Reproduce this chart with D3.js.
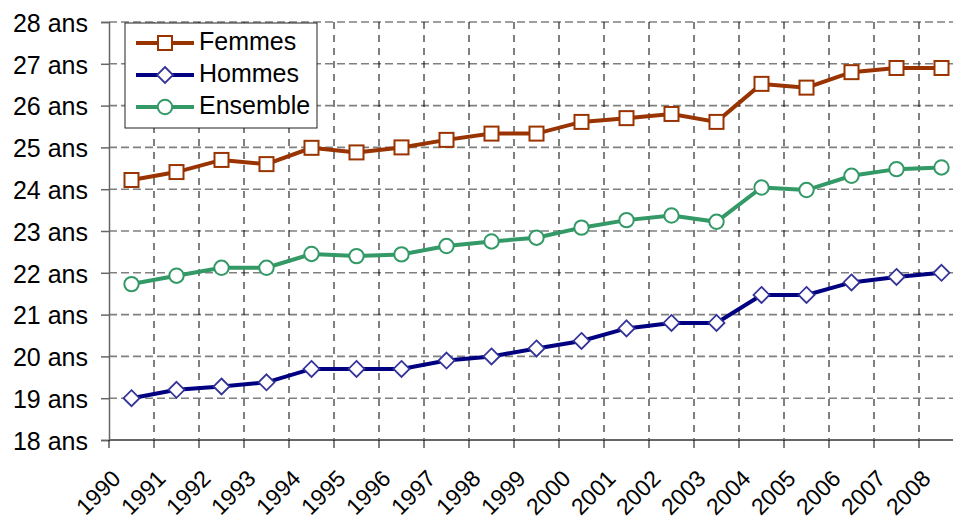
<!DOCTYPE html>
<html><head><meta charset="utf-8">
<script src="https://cdn.jsdelivr.net/npm/d3@7"></script>
<style>body{margin:0;background:#fff}svg{display:block}text{font-family:"Liberation Sans",Arial,sans-serif}</style>
</head><body>
<script>
const years = ["1990","1991","1992","1993","1994","1995","1996","1997","1998","1999","2000","2001","2002","2003","2004","2005","2006","2007","2008"];
const femmes = [24.22,24.41,24.70,24.60,24.99,24.88,25.00,25.18,25.33,25.33,25.61,25.70,25.80,25.61,26.52,26.43,26.80,26.90,26.90];
const hommes = [19.00,19.20,19.28,19.38,19.70,19.70,19.70,19.90,20.00,20.19,20.37,20.67,20.80,20.80,21.47,21.47,21.77,21.90,22.00];
const ensemble = [21.73,21.93,22.12,22.12,22.45,22.40,22.44,22.64,22.75,22.84,23.08,23.26,23.37,23.22,24.04,23.98,24.32,24.48,24.52];
const yTicks = [18,19,20,21,22,23,24,25,26,27,28];

const W=953,H=519;
const svg=d3.select("body").append("svg").attr("width",W).attr("height",H);
const mLeft=109, mRight=964, mTop=22, mBottom=440;
const x=d3.scaleBand().domain(years).range([mLeft,mRight]);
const y=d3.scaleLinear().domain([18,28]).range([mBottom,mTop]);

// horizontal grid
svg.append("g").selectAll("line").data(yTicks.filter(d=>d>18)).join("line")
 .attr("x1",mLeft).attr("x2",W).attr("y1",d=>y(d)).attr("y2",d=>y(d))
 .attr("stroke","#808080").attr("stroke-width",1.6).attr("stroke-dasharray","8,4");
// vertical grid
svg.append("g").selectAll("line").data(years.slice(1)).join("line")
 .attr("x1",d=>x(d)).attr("x2",d=>x(d)).attr("y1",mTop).attr("y2",mBottom)
 .attr("stroke","#000").attr("stroke-width",1).attr("stroke-dasharray","7,6");

// y axis
const ya=svg.append("g").attr("transform",`translate(${mLeft},0)`)
 .call(d3.axisLeft(y).tickValues(yTicks).tickSize(8).tickPadding(13).tickFormat(d=>d+" ans"));
ya.select(".domain").attr("stroke","#666").attr("stroke-width",1.5);
ya.selectAll(".tick line").attr("stroke","#666").attr("stroke-width",1.5);
ya.selectAll("text").attr("font-size",25).attr("dy","0.37em").attr("fill","#000").attr("font-family","Liberation Sans, Arial, sans-serif");

// x axis
const xa=svg.append("g").attr("transform",`translate(0,${mBottom})`);
xa.append("line").attr("x1",mLeft).attr("x2",W).attr("stroke","#666").attr("stroke-width",2);
xa.selectAll("line.t").data(years).join("line").attr("class","t")
 .attr("x1",d=>x(d)).attr("x2",d=>x(d)).attr("y1",0).attr("y2",8)
 .attr("stroke","#000").attr("stroke-width",1);
xa.selectAll("text").data(years).join("text")
 .attr("transform",d=>`translate(${x(d)+13},${40}) rotate(-45)`)
 .attr("text-anchor","end").attr("font-size",23).attr("fill","#000").text(d=>d);

const series=[
 {name:"Femmes",vals:femmes,color:"#993300",mk:"#993300",shape:"square"},
 {name:"Hommes",vals:hommes,color:"#000080",mk:"#333399",shape:"diamond"},
 {name:"Ensemble",vals:ensemble,color:"#339966",mk:"#339966",shape:"circle"}
];
function marker(g,s,cx,cy){
 if(s.shape==="square") g.append("rect").attr("x",cx-7).attr("y",cy-7).attr("width",14).attr("height",14)
   .attr("fill","#fff").attr("stroke",s.mk).attr("stroke-width",2);
 else if(s.shape==="diamond") g.append("path").attr("d",`M${cx},${cy-8}L${cx+8},${cy}L${cx},${cy+8}L${cx-8},${cy}Z`)
   .attr("fill","#fff").attr("stroke",s.mk).attr("stroke-width",1.8);
 else g.append("circle").attr("cx",cx).attr("cy",cy).attr("r",7.2)
   .attr("fill","#fff").attr("stroke",s.mk).attr("stroke-width",2);
}
const line=d3.line().x((d,i)=>x(years[i])+x.bandwidth()/2).y(d=>y(d));
series.forEach(s=>{
 const g=svg.append("g");
 g.append("path").attr("d",line(s.vals)).attr("fill","none").attr("stroke",s.color).attr("stroke-width",4);
 s.vals.forEach((v,i)=>marker(g,s,x(years[i])+x.bandwidth()/2,y(v)));
});

// legend
const lg=svg.append("g");
lg.append("rect").attr("x",125).attr("y",23).attr("width",192).attr("height",105)
 .attr("fill","#fff").attr("stroke","#222").attr("stroke-width",1);
series.forEach((s,i)=>{
 const cy=[43,75,107][i];
 lg.append("line").attr("x1",136).attr("x2",194).attr("y1",cy).attr("y2",cy).attr("stroke",s.color).attr("stroke-width",4);
 marker(lg,s,165,cy);
 lg.append("text").attr("x",199).attr("y",cy+7).attr("font-size",25).attr("fill","#000").text(s.name);
});
</script>
</body></html>
